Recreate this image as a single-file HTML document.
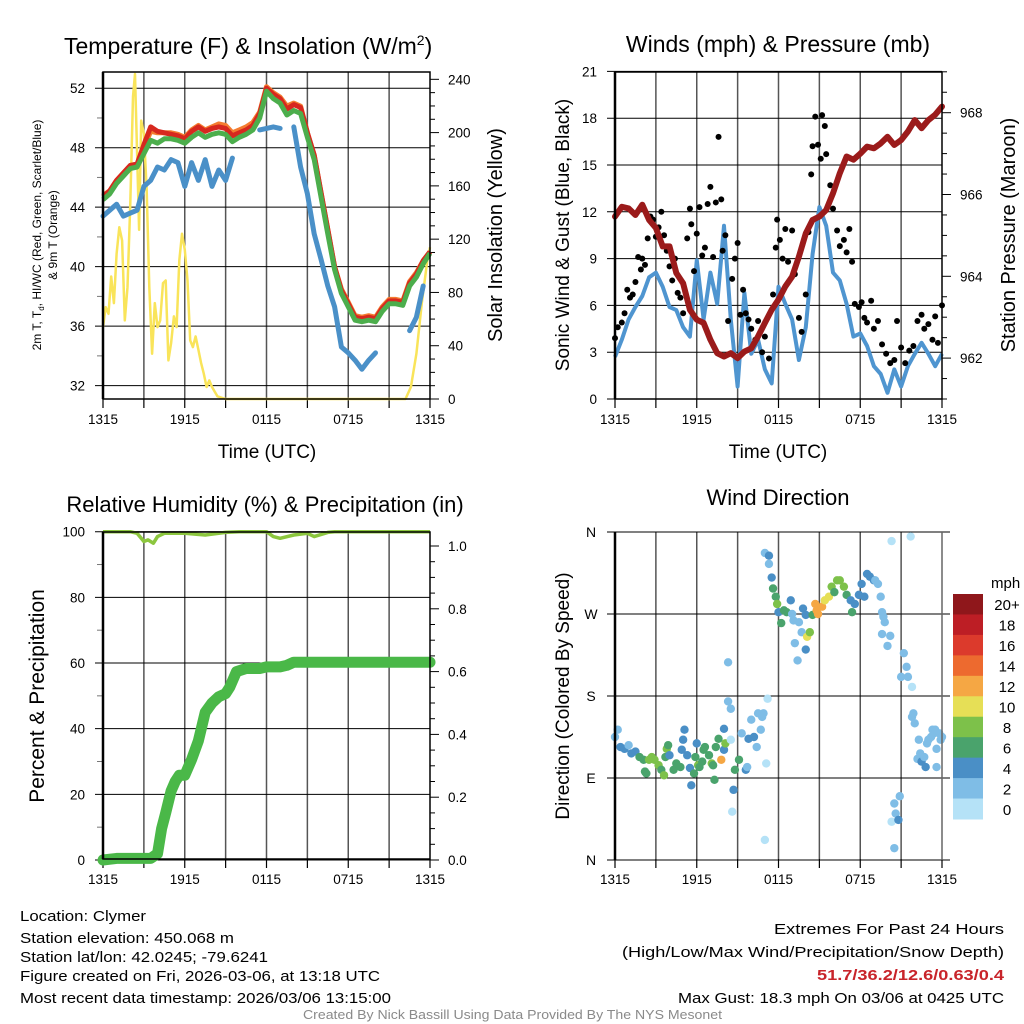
<!DOCTYPE html>
<html><head><meta charset="utf-8"><style>
html,body{margin:0;padding:0;background:#fff}
svg{display:block;font-family:"Liberation Sans",sans-serif}
</style></head><body>
<svg id="fig" width="1024" height="1024" viewBox="0 0 1024 1024" xmlns="http://www.w3.org/2000/svg"></svg>
<script>
// ---------- DATA ----------
const hours = [0,0.5,1,1.5,2,2.5,3,3.5,4,4.5,5,5.5,6,6.5,7,7.5,8,8.5,9,9.5,10,10.5,11,11.5,12,12.5,13,13.5,14,14.5,15,15.5,16,16.5,17,17.5,18,18.5,19,19.5,20,20.5,21,21.5,22,22.5,23,23.5,24];
const tempGreen = [44.5,44.9,45.6,46.1,46.6,46.7,47.6,48.5,48.3,48.6,48.6,48.5,48.3,48.7,49.0,48.7,48.9,49.0,48.9,48.4,48.7,48.9,49.2,50.0,51.8,51.3,51.0,50.2,50.5,50.3,48.7,47.2,44.7,42.2,39.8,38.2,37.3,36.4,36.3,36.4,36.3,37.0,37.5,37.5,37.4,38.7,39.3,40.2,40.9];
const tempRed = [44.7,45.1,45.8,46.3,46.8,46.9,48.2,49.4,49.1,49.0,48.9,48.8,48.6,49.1,49.4,49.1,49.3,49.4,49.3,48.8,49.0,49.2,49.5,50.3,52.0,51.6,51.3,50.6,50.9,50.7,49.0,47.5,45.0,42.5,40.0,38.4,37.5,36.6,36.5,36.6,36.5,37.2,37.7,37.7,37.6,38.9,39.5,40.4,41.0];
const tempOrange = [44.8,45.1,45.8,46.3,46.8,46.9,48.0,49.1,49.0,49.0,49.0,48.9,48.7,49.2,49.5,49.2,49.4,49.6,49.5,49.0,49.2,49.4,49.7,50.4,52.1,51.7,51.4,50.8,51.0,50.8,49.0,47.5,45.0,42.5,40.0,38.5,37.6,36.7,36.6,36.7,36.6,37.3,37.8,37.8,37.7,39.0,39.6,40.4,41.0];
const dewpoint = [43.4,43.8,44.2,43.4,43.6,43.8,45.4,45.8,46.7,46.5,47.2,47.0,45.4,47.0,45.8,47.2,45.4,46.5,45.8,47.3,null,null,null,49.2,49.3,49.4,49.3,null,49.4,46.7,44.9,42.2,40.5,38.7,37.3,34.6,34.2,33.7,33.1,33.7,34.2,null,35.1,null,null,35.7,36.6,38.7,null];
const solarHours = [0,0.2,0.4,0.6,0.8,1.0,1.2,1.4,1.6,1.8,2.0,2.2,2.35,2.5,2.65,2.8,3.0,3.2,3.4,3.6,3.8,4.0,4.2,4.4,4.6,4.8,5.0,5.2,5.4,5.6,5.8,6.0,6.2,6.4,6.6,6.8,7.0,7.2,7.4,7.6,7.8,8.0,8.4,9,12,16,20,22.2,22.6,23.0,23.4,23.8,24];
const solar = [54,69,64,92,72,109,129,119,59,84,147,227,244,184,127,209,199,159,84,34,72,54,59,87,89,29,42,62,54,104,124,112,89,44,39,47,37,27,19,9,14,9,2,0,0,0,0,0,9,34,72,104,114];
const windSpeed = [2.7,3.8,5.1,5.9,6.6,7.8,8.1,7.2,5.9,5.7,4.6,4.0,8.9,5.1,8.1,6.1,11.1,5.1,0.8,6.8,2.9,3.8,1.9,1.0,7.2,6.1,5.1,2.5,4.6,9.3,12.3,11.1,8.1,7.6,6.1,4.0,4.2,3.4,2.1,1.6,0.4,1.9,0.8,2.1,2.9,3.6,2.9,2.1,2.9];
const pressure = [965.46,965.7,965.66,965.5,965.75,965.38,965.18,964.73,964.73,964.08,963.83,963.18,962.94,962.86,962.45,962.12,962.04,962.12,962.0,962.16,962.24,962.53,962.86,963.18,963.43,963.75,963.99,964.48,965.05,965.38,965.46,965.62,966.03,966.52,966.93,966.85,967.0,967.17,967.13,967.25,967.41,967.21,967.33,967.54,967.82,967.62,967.82,967.95,968.15];
const gustHours = [0,0.2,0.5,0.7,0.9,1.1,1.3,1.5,1.7,1.9,2.0,2.2,2.4,2.6,2.8,3.0,3.2,3.4,3.6,3.8,4.0,4.2,4.4,4.6,4.8,5.0,5.3,5.5,5.6,5.8,6.0,6.2,6.4,6.6,6.8,7.0,7.2,7.4,7.6,7.8,7.9,8.1,8.3,8.6,8.8,9.0,9.2,9.4,9.6,9.8,10.0,10.3,10.5,10.8,11.0,11.3,11.6,11.8,11.9,12.1,12.3,12.5,12.7,13.0,13.2,13.5,13.7,14.0,14.2,14.4,14.5,14.7,14.9,15.1,15.2,15.4,15.5,15.8,16.0,16.3,16.5,16.8,17.0,17.2,17.4,17.6,17.9,18.1,18.3,18.5,18.8,19.0,19.3,19.6,19.9,20.2,20.5,20.7,21.0,21.3,21.6,21.9,22.2,22.5,22.7,23.0,23.3,23.5,23.7,24.0];
const gustSpeed = [3.9,4.6,4.9,5.5,7,6.5,6.7,7.5,9.1,8.3,9,8.6,10.3,11.7,11.5,10.4,11,12,10.5,9.5,8.5,7.6,9,6.8,6.5,5.5,10.3,12.2,11.2,8.2,10.6,12.3,9.2,9.7,12.5,13.6,9.1,12.6,16.8,12.8,9.5,10.5,5,7.7,9,10,5.4,7,5.5,5.1,4.5,3.8,5,3,4,2.6,6.7,9.7,11.5,10.2,9,10.9,8.8,10.8,8,5.2,4.3,6.7,10.7,14.4,16.2,18.1,16.3,15.4,18.2,17.5,15.7,13.7,12.2,10.8,9.8,10.2,9.4,10.9,8.8,6.1,5.9,6.2,5.2,4.9,6.3,4.5,5,3.5,2.9,2.3,2.5,5,3.3,2.3,3.1,3.4,5,5.4,4.5,4.8,3.8,5.3,3.6,6];
const rhHours = [0,2,2.5,3,3.3,3.7,4,4.5,6,7.5,9,10,12,12.5,13,14,15,15.5,16.5,17,24];
const rh = [100,100,99.5,97,97.5,96.5,98.5,99.5,99.5,99,99.8,100,100,98.5,98,99,99.5,98.5,99.8,100,100];
const precipHours = [0,1,3.5,4.0,4.3,4.6,5.0,5.3,5.6,6.0,6.5,7.0,7.5,8.0,8.5,9.0,9.3,9.8,10.5,11.5,12,13,13.5,14,24];
const precip = [0,0.005,0.005,0.02,0.1,0.15,0.22,0.25,0.27,0.27,0.32,0.38,0.47,0.5,0.52,0.53,0.55,0.6,0.61,0.61,0.615,0.615,0.62,0.63,0.63];
const dirHours = [0.0,0.2,0.4,0.7,1.0,1.2,1.5,1.8,2.1,2.2,2.3,2.5,2.7,2.9,3.2,3.4,3.6,3.7,3.8,3.9,4.0,4.3,4.5,4.8,4.9,5.0,5.1,5.3,5.5,5.6,5.8,5.9,6.0,6.1,6.2,6.4,6.5,6.6,6.9,7.1,7.2,7.3,7.4,7.6,7.8,8.0,8.0,8.1,8.3,8.3,8.5,8.5,8.6,8.7,8.8,9.1,9.3,9.6,9.7,9.8,10.0,10.2,10.4,10.5,10.7,10.8,10.9,11.0,11.1,11.2,11.0,11.3,11.3,11.5,11.6,11.8,11.9,12.0,12.2,12.4,12.6,12.9,13.0,13.1,13.2,13.4,13.5,13.7,13.8,14.0,14.0,14.1,14.3,14.5,14.7,14.8,14.9,15.2,15.4,15.7,15.9,16.1,16.3,16.5,16.8,17.0,17.3,17.4,17.6,17.9,18.1,18.3,18.5,18.7,19.0,19.1,19.3,19.5,19.6,19.7,19.8,19.6,20.0,20.2,20.3,20.3,20.5,20.5,20.6,20.8,20.9,21.0,21.2,21.4,21.5,21.7,21.8,21.8,21.9,22.0,22.2,22.3,22.4,22.5,22.7,22.8,22.9,23.0,23.2,23.3,23.4,23.5,23.6,23.6,23.8,23.9,24.0];
const dirDeg = [135,143,124,122,126,117,119,113,110,97,95,110,113,110,104,99,93,113,122,126,115,99,106,102,121,132,143,115,101,82,95,113,128,104,102,108,121,124,115,106,104,88,124,133,110,121,144,128,217,174,166,132,53,77,99,110,139,99,102,133,154,135,124,161,143,157,161,22,106,177,337,334,325,310,298,289,281,272,260,274,272,285,270,263,238,219,261,250,276,269,231,245,250,269,281,274,270,278,285,289,300,294,307,307,300,291,285,272,281,291,303,289,314,311,307,307,303,289,272,267,261,248,235,246,350,42,62,13,51,44,70,201,227,212,201,355,190,157,161,150,111,132,117,108,113,102,128,132,135,143,139,143,122,102,139,132,135];
const dirSpeed = [3,2,4,4,3,4,4,6,6,6,6,8,8,8,8,7,8,6,8,6,4,6,6,6,4,4,4,4,4,4,6,6,4,8,6,7,6,6,6,8,7,6,6,6,12,4,4,8,3,2,2,1,1,4,6,6,3,4,3,4,3,4,3,2,3,2,2,1,1,1,3,4,3,4,6,7,8,4,6,6,6,4,3,3,3,3,3,3,4,4,4,10,8,6,12,12,12,12,10,10,8,6,8,8,8,6,4,6,4,4,4,4,4,4,4,3,3,3,3,3,3,3,3,2,1,1,3,3,3,4,3,3,2,2,3,1,1,2,3,3,3,3,3,4,3,4,3,3,3,3,3,2,3,3,3,3,2];
const speedColors = ['#b5e2f7','#7fbde6','#4a8fc6','#4aa36c','#7dc14a','#e6df56','#f5a744','#ed6a2f','#dc3a2c','#bd1e25','#8f171b'];
const speedLabels = ['0','2','4','6','8','10','12','14','16','18','20+'];
const timeLabels = ['1315','1915','0115','0715','1315'];
const tempTicks = [32,36,40,44,48,52];
const solarTicks = [0,40,80,120,160,200,240];
const windTicks = [0,3,6,9,12,15,18,21];
const pressTicks = [962,964,966,968];
const rhTicks = [0,20,40,60,80,100];
const precipTicks = [0,0.2,0.4,0.6,0.8,1.0];
const dirTicks = [0,90,180,270,360];
const dirLabels = ['N','E','S','W','N'];

// ---------- HELPERS ----------
const NS='http://www.w3.org/2000/svg';
const svg=document.getElementById('fig');
function mk(tag,attrs,parent){const e=document.createElementNS(NS,tag);for(const k in attrs)e.setAttribute(k,attrs[k]);(parent||svg).appendChild(e);return e;}
function txt(s,attrs,parent){const e=mk('text',attrs,parent);e.textContent=s;return e;}
const PW=327, PH=327;
const xA=h=>103+h*PW/24, xB=h=>615+h*PW/24;
const yT=t=>399-(t-31.1)*14.87, ySol=v=>399-v*1.332;
const yW=m=>399-m*15.6, yP=p=>399-(p-961)*40.9;
const yRH=r=>860-r*3.283, yPr=i=>860-i*314;
const yD=d=>860-d*328/360;
function pathFrom(xs,ys,xf,yf){let d='',pen=false;for(let i=0;i<xs.length;i++){if(ys[i]==null){pen=false;continue;}d+=(pen?'L':'M')+xf(xs[i]).toFixed(1)+' '+yf(ys[i]).toFixed(1);pen=true;}return d;}

function panelFrame(x0,y0,name){
  const g=mk('g',{});
  
  
  for(let h=3;h<24;h+=3){
    const l=mk('line',{x1:x0+h*PW/24,x2:x0+h*PW/24,y1:y0,y2:y0+PH,stroke:'#555','stroke-width':1.5},g);
    
    
  }
  for(let h=0;h<=24;h+=3){
    const t=mk('line',{x1:x0+h*PW/24,x2:x0+h*PW/24,y1:y0+PH,y2:y0+PH+9,stroke:'#000','stroke-width':1.2},g);
    
    
  }
  timeLabels.forEach((s,i)=>{
    const t=txt(s,{x:x0+i*6*PW/24,y:y0+PH+25,'text-anchor':'middle','font-size':13.5},g);
    
    
  });
  return g;
}
function hgrid(g,x0,y,label,lx){
  const l=mk('line',{x1:x0-8,x2:x0+PW,y1:y,y2:y,stroke:'#000','stroke-width':1},g);
  
  
  const t=txt(label,{x:lx,y:y+5,'text-anchor':'end','font-size':13.5},g);
  
  
}
function rtick(g,x1,y,label,major){
  const l=mk('line',{x1:x1,x2:x1+(major?9:5),y1:y,y2:y,stroke:'#000','stroke-width':1},g);
  
  
  if(label!=null){
    const t=txt(label,{x:x1+18,y:y+5,'font-size':13.5},g);
    
    
  }
}
function box(g,x0,y0,name){
  const r=mk('rect',{x:x0,y:y0,width:PW,height:PH,fill:'none',stroke:'#000','stroke-width':1.5},g);
  
  
  const l=mk('line',{x1:x0,x2:x0,y1:y0,y2:y0+PH,stroke:'#000','stroke-width':2.5},g);
  
  
}
function title(s,x,y,size,name,rot){
  const t=txt(s,{x:x,y:y,'text-anchor':'middle','font-size':size,transform:rot?`rotate(-90 ${x} ${y})`:''});
  
  
  return t;
}

// ---------- PANEL 1: Temperature ----------
const g1=panelFrame(103,72,'temperature-panel');
tempTicks.forEach(v=>hgrid(g1,103,yT(v),String(v),85));
for(let v=34;v<=52;v+=4){const m=mk('line',{x1:97,x2:103,y1:yT(v),y2:yT(v),stroke:'#777'},g1);}
for(let v=0;v<=240;v+=10) rtick(g1,430,ySol(v),solarTicks.includes(v)?String(v):null,solarTicks.includes(v));
const sol=mk('path',{d:pathFrom(solarHours,solar,xA,ySol),fill:'none',stroke:'#f9e45a','stroke-width':2.5,'stroke-linejoin':'round'});


const dp=mk('path',{d:pathFrom(hours,dewpoint,xA,yT),fill:'none',stroke:'#4a90c8','stroke-width':5,'stroke-linecap':'round','stroke-linejoin':'round'});


const to=mk('path',{d:pathFrom(hours,tempOrange,xA,yT),fill:'none',stroke:'#f47c30','stroke-width':5,'stroke-linejoin':'round'});


const tr=mk('path',{d:pathFrom(hours,tempRed,xA,yT),fill:'none',stroke:'#d7281f','stroke-width':5,'stroke-linejoin':'round'});


const tg=mk('path',{d:pathFrom(hours,tempGreen,xA,yT),fill:'none',stroke:'#4cae4c','stroke-width':5,'stroke-linejoin':'round'});


box(svg,103,72,'temperature-plot-frame');
const t1=txt('Temperature (F) & Insolation (W/m',{x:64,y:54,'font-size':23});


const t1b=mk('tspan',{dy:-9,'font-size':14},t1);t1b.textContent='2';
const t1c=mk('tspan',{dy:9},t1);t1c.textContent=')';
title('Time (UTC)',267,458,19,'x-axis-title');
title('Solar Insolation (Yellow)',502,235,20,'solar-axis-title',true);
const lt=txt('2m T, T',{x:41,y:235,'text-anchor':'middle','font-size':12,transform:'rotate(-90 41 235)'});


const lts=mk('tspan',{dy:3,'font-size':8},lt);lts.textContent='d';
const lts2=mk('tspan',{dy:-3},lt);lts2.textContent=', HI/WC (Red, Green, Scarlet/Blue)';
title('& 9m T (Orange)',57,235,12,'temperature-axis-title-line2',true);

// ---------- PANEL 2: Winds ----------
const g2=panelFrame(615,72,'winds-panel');
windTicks.forEach(v=>hgrid(g2,615,yW(v),String(v),597));
for(let v=961;v<=969.01;v+=0.5) rtick(g2,942,yP(v),pressTicks.includes(v)?String(v):null,pressTicks.includes(v));
const ws=mk('path',{d:pathFrom(hours,windSpeed,xB,yW),fill:'none',stroke:'#4f95d0','stroke-width':4,'stroke-linejoin':'round'});


gustHours.forEach((h,i)=>{
  const c=mk('circle',{cx:xB(h),cy:yW(gustSpeed[i]),r:3,fill:'#000'});
  
  
});
const pr=mk('path',{d:pathFrom(hours,pressure,xB,yP),fill:'none',stroke:'#9b1b1b','stroke-width':6,'stroke-linejoin':'round','stroke-linecap':'round'});


box(svg,615,72,'winds-plot-frame');
title('Winds (mph) & Pressure (mb)',778,52,23,'winds-title');
title('Time (UTC)',778,458,19,'winds-x-axis-title');
title('Sonic Wind & Gust (Blue, Black)',569,235,19,'wind-axis-title',true);
title('Station Pressure (Maroon)',1015,235,20,'pressure-axis-title',true);

// ---------- PANEL 3: RH & Precip ----------
const g3=panelFrame(103,532,'humidity-panel');
rhTicks.forEach(v=>hgrid(g3,103,yRH(v),String(v),85));
for(let v=10;v<100;v+=20){const m=mk('line',{x1:97,x2:103,y1:yRH(v),y2:yRH(v),stroke:'#777'},g3);}
for(let i=0;i<=20;i++){const v=i*0.05;const maj=i%4===0;rtick(g3,430,yPr(v),maj?v.toFixed(1):null,maj);}
const rhl=mk('path',{d:pathFrom(rhHours,rh,xA,yRH),fill:'none',stroke:'#8cc63f','stroke-width':3.5,'stroke-linejoin':'round'});


const pl=mk('path',{d:pathFrom(precipHours,precip,xA,yPr),fill:'none',stroke:'#4ab848','stroke-width':11,'stroke-linejoin':'round','stroke-linecap':'round'});


box(svg,103,532,'humidity-plot-frame');
title('Relative Humidity (%) & Precipitation (in)',265,512,22,'humidity-title');
title('Percent & Precipitation',44,696,21,'humidity-axis-title',true);

// ---------- PANEL 4: Wind Direction ----------
const g4=panelFrame(615,532,'wind-direction-panel');
dirTicks.forEach((v,i)=>{
  const l=mk('line',{x1:607,x2:950,y1:yD(v),y2:yD(v),stroke:'#000','stroke-width':1},g4);
  
  
  const t=txt(dirLabels[i],{x:591,y:yD(v)+5,'text-anchor':'middle','font-size':14},g4);
  
  
});
dirHours.forEach((h,i)=>{
  const idx=Math.min(10,Math.floor((dirSpeed[i]+0.5)/2));
  const c=mk('circle',{cx:xB(h),cy:yD(dirDeg[i]),r:4.2,fill:speedColors[idx]});
  
  
});
const l4=mk('line',{x1:615,x2:615,y1:532,y2:860,stroke:'#000','stroke-width':2.5});


const r4=mk('line',{x1:942,x2:942,y1:532,y2:860,stroke:'#666','stroke-width':1.5});


title('Wind Direction',778,505,22,'wind-direction-title');
title('Direction (Colored By Speed)',569,696,19,'direction-axis-title',true);
const cb=mk('g',{});


const bh=(819-594)/11;
speedColors.forEach((c,i)=>{
  const k=10-i;
  const r=mk('rect',{x:953,y:594+i*bh,width:30,height:bh+0.5,fill:speedColors[k]},cb);
  
  
  const t=txt(speedLabels[k],{x:1007,y:594+i*bh+bh/2+6,'text-anchor':'middle','font-size':15},cb);
  
  
});
const mph=txt('mph',{x:991,y:588,'font-size':15},cb);



// ---------- FOOTER ----------
const leftLines=[['Location: Clymer',921,126],['Station elevation: 450.068 m',943,214],['Station lat/lon: 42.0245; -79.6241',962,248],['Figure created on Fri, 2026-03-06, at 13:18 UTC',981,360],['Most recent data timestamp: 2026/03/06 13:15:00',1003,371]];
leftLines.forEach(a=>{
  const t=txt(a[0],{x:20,y:a[1],'font-size':15,textLength:a[2],lengthAdjust:'spacingAndGlyphs'});
  
  
});
const rightLines=[['Extremes For Past 24 Hours',934,230,'#000','normal'],['(High/Low/Max Wind/Precipitation/Snow Depth)',957,382,'#000','normal'],['51.7/36.2/12.6/0.63/0.4',980,187,'#c8242a','bold'],['Max Gust: 18.3 mph On 03/06 at 0425 UTC',1003,326,'#000','normal']];
rightLines.forEach(a=>{
  const t=txt(a[0],{x:1004-a[2],y:a[1],'font-size':15,fill:a[3],'font-weight':a[4],textLength:a[2],lengthAdjust:'spacingAndGlyphs'});
  
  
});
const cr=txt('Created By Nick Bassill Using Data Provided By The NYS Mesonet',{x:303,y:1019,'font-size':12.5,fill:'#8a8a8a',textLength:419,lengthAdjust:'spacingAndGlyphs'});


</script>
</body></html>
